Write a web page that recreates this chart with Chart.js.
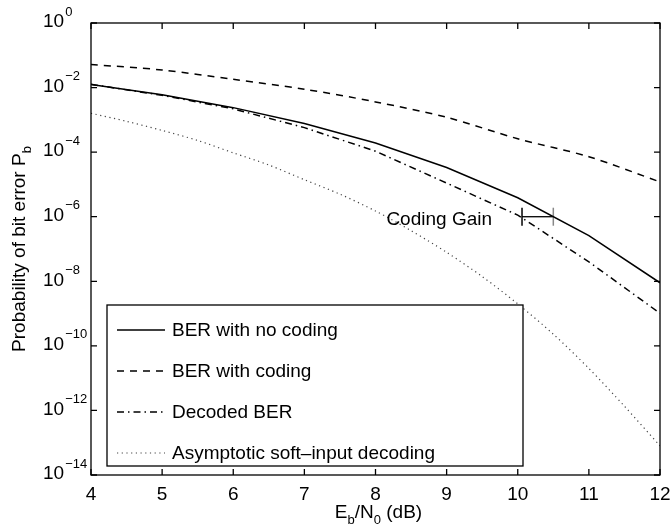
<!DOCTYPE html>
<html><head><meta charset="utf-8">
<style>html,body{margin:0;padding:0;background:#fff;}canvas{display:block}</style>
<script src="https://cdn.jsdelivr.net/npm/chart.js@4/dist/chart.umd.min.js"></script>
</head><body>
<canvas id="c" width="672" height="524"></canvas>
<script>
// ---- data ----
const ebn0 = [4, 5, 6, 7, 8, 9, 10, 11, 12];
const berNoCoding   = [1.25e-2, 5.95e-3, 2.39e-3, 7.73e-4, 1.91e-4, 3.36e-5, 3.87e-6, 2.61e-7, 9.0e-9];
const berWithCoding = [5.2e-2, 3.5e-2, 1.8e-2, 8.9e-3, 3.6e-3, 1.2e-3, 2.6e-4, 7.2e-5, 1.2e-5];
const decodedBer    = [1.26e-2, 5.75e-3, 2.19e-3, 5.75e-4, 1.07e-4, 1.1e-5, 1.12e-6, 4.0e-8, 1.02e-9];
const ebn0Fine = [4, 4.5, 5, 5.5, 6, 6.5, 7, 7.5, 8, 8.5, 9, 9.5, 10, 10.5, 11, 11.5, 12];
const asymptoticSoft = [1.6e-3, 9.0e-4, 4.7e-4, 2.3e-4, 9.5e-5, 4.0e-5, 1.4e-5, 5.0e-6, 1.5e-6, 3.7e-7, 7.9e-8, 1.4e-8, 2.0e-9, 2.3e-10, 2.0e-11, 1.35e-12, 8e-14];
const seriesNames = ['BER with no coding', 'BER with coding', 'Decoded BER', 'Asymptotic soft\u2013input decoding'];
const codingGainX = [10.06, 10.5];
const codingGainY = [1e-6, 1e-6];
const codingGainLabel = 'Coding Gain';
const xTicks = [4, 5, 6, 7, 8, 9, 10, 11, 12];
const yTickExps = [0, -2, -4, -6, -8, -10, -12, -14];
const xTitle = [['E', 0], ['b', 1], ['/N', 0], ['0', 1], [' (dB)', 0]];
const yTitle = [['Probability of bit error P', 0], ['b', 1]];

const FONT = '"Liberation Sans", Arial, Helvetica, sans-serif';
const pts = (xs, ys) => xs.map((x, i) => ({x: x, y: ys[i]}));

function richWidth(ctx, parts, big, small) {
  let w = 0;
  for (const [t, s] of parts) { ctx.font = (s ? small : big) + 'px ' + FONT; w += ctx.measureText(t).width; }
  return w;
}
function drawRich(ctx, parts, x, y, big, small, shift, align) {
  const w = richWidth(ctx, parts, big, small);
  let cx = align === 'center' ? x - w / 2 : (align === 'right' ? x - w : x);
  ctx.textBaseline = 'middle'; ctx.textAlign = 'left';
  for (const [t, s] of parts) {
    ctx.font = (s ? small : big) + 'px ' + FONT;
    ctx.fillText(t, cx, y + (s ? shift : 0));
    cx += ctx.measureText(t).width;
  }
}

const decor = {
  id: 'decor',
  afterDatasetsDraw(chart) {
    const ctx = chart.ctx, ca = chart.chartArea;
    const xs = chart.scales.x, ys = chart.scales.y;
    ctx.save();
    ctx.fillStyle = '#000'; ctx.strokeStyle = '#000'; ctx.lineWidth = 1.3; ctx.setLineDash([]);
    // frame
    ctx.strokeRect(ca.left, ca.top, ca.right - ca.left, ca.bottom - ca.top);
    const TL = 6;
    ctx.beginPath();
    for (const v of xTicks) {
      const px = xs.getPixelForValue(v);
      ctx.moveTo(px, ca.bottom); ctx.lineTo(px, ca.bottom - TL);
      ctx.moveTo(px, ca.top); ctx.lineTo(px, ca.top + TL);
    }
    for (const e of yTickExps) {
      const py = ys.getPixelForValue(Math.pow(10, e));
      ctx.moveTo(ca.left, py); ctx.lineTo(ca.left + TL, py);
      ctx.moveTo(ca.right, py); ctx.lineTo(ca.right - TL, py);
    }
    ctx.stroke();
    // x tick labels
    ctx.font = '19px ' + FONT; ctx.textAlign = 'center'; ctx.textBaseline = 'middle';
    for (const v of xTicks) ctx.fillText(String(v), xs.getPixelForValue(v), ca.bottom + 20);
    // y tick labels
    for (const e of yTickExps) {
      const py = ys.getPixelForValue(Math.pow(10, e));
      ctx.font = '19px ' + FONT; ctx.textAlign = 'left'; ctx.textBaseline = 'middle';
      ctx.fillText('10', 43, py - 1);
      const w10 = ctx.measureText('10').width;
      ctx.font = '13px ' + FONT;
      ctx.fillText(e === 0 ? '0' : '\u2212' + String(-e), 43 + w10 + 1, py - 11);
    }
    // axis titles
    drawRich(ctx, xTitle, (ca.left + ca.right) / 2 + 3, ca.bottom + 38, 19, 13, 7, 'center');
    ctx.save();
    ctx.translate(20, (ca.top + ca.bottom) / 2);
    ctx.rotate(-Math.PI / 2);
    drawRich(ctx, yTitle, 0, 0, 19, 13, 7, 'center');
    ctx.restore();
    // coding gain label
    ctx.font = '19px ' + FONT; ctx.textAlign = 'right'; ctx.textBaseline = 'middle';
    ctx.fillText(codingGainLabel, xs.getPixelForValue(codingGainX[0]) - 30, ys.getPixelForValue(codingGainY[0]) + 3);
    // legend
    const lx = 107, ly = 305, lw = 416, lh = 161;
    ctx.fillStyle = '#fff'; ctx.fillRect(lx, ly, lw, lh);
    ctx.strokeStyle = '#000'; ctx.lineWidth = 1.3; ctx.strokeRect(lx, ly, lw, lh);
    for (let i = 0; i < 4; i++) {
      const ds = chart.data.datasets[i];
      const y = ly + 25 + i * 41;
      ctx.setLineDash(ds.borderDash || []);
      ctx.lineWidth = ds.borderWidth;
      ctx.strokeStyle = ds.borderColor;
      ctx.beginPath(); ctx.moveTo(117, y); ctx.lineTo(165, y); ctx.stroke();
      ctx.setLineDash([]);
      ctx.fillStyle = '#000'; ctx.font = '19px ' + FONT; ctx.textAlign = 'left'; ctx.textBaseline = 'middle';
      ctx.fillText(ds.label, 172, y + 1);
    }
    ctx.restore();
  }
};

new Chart(document.getElementById('c'), {
  type: 'line',
  data: {
    datasets: [
      {label: seriesNames[0], data: pts(ebn0, berNoCoding), borderColor: '#000', borderWidth: 1.5, pointRadius: 0, tension: 0},
      {label: seriesNames[1], data: pts(ebn0, berWithCoding), borderColor: '#000', borderWidth: 1.5, borderDash: [7, 6], pointRadius: 0, tension: 0.3},
      {label: seriesNames[2], data: pts(ebn0, decodedBer), borderColor: '#000', borderWidth: 1.5, borderDash: [7, 4, 1.5, 4], pointRadius: 0, tension: 0},
      {label: seriesNames[3], data: pts(ebn0Fine, asymptoticSoft), borderColor: '#444', borderWidth: 1.2, borderDash: [1.2, 3.5], pointRadius: 0, tension: 0.3},
      {label: codingGainLabel, data: pts(codingGainX, codingGainY), borderColor: '#000', borderWidth: 1.3,
        pointStyle: 'line', rotation: 90, pointRadius: 9, pointBorderColor: ['#000', '#888'], pointBorderWidth: 1.5, tension: 0}
    ]
  },
  options: {
    responsive: false, animation: false,
    layout: {padding: {left: 91, right: 12, top: 23, bottom: 49}},
    plugins: {legend: {display: false}, tooltip: {enabled: false}},
    scales: {
      x: {type: 'linear', min: 4, max: 12, display: false},
      y: {type: 'logarithmic', min: 1e-14, max: 1, display: false}
    }
  },
  plugins: [decor]
});
</script>
</body></html>
